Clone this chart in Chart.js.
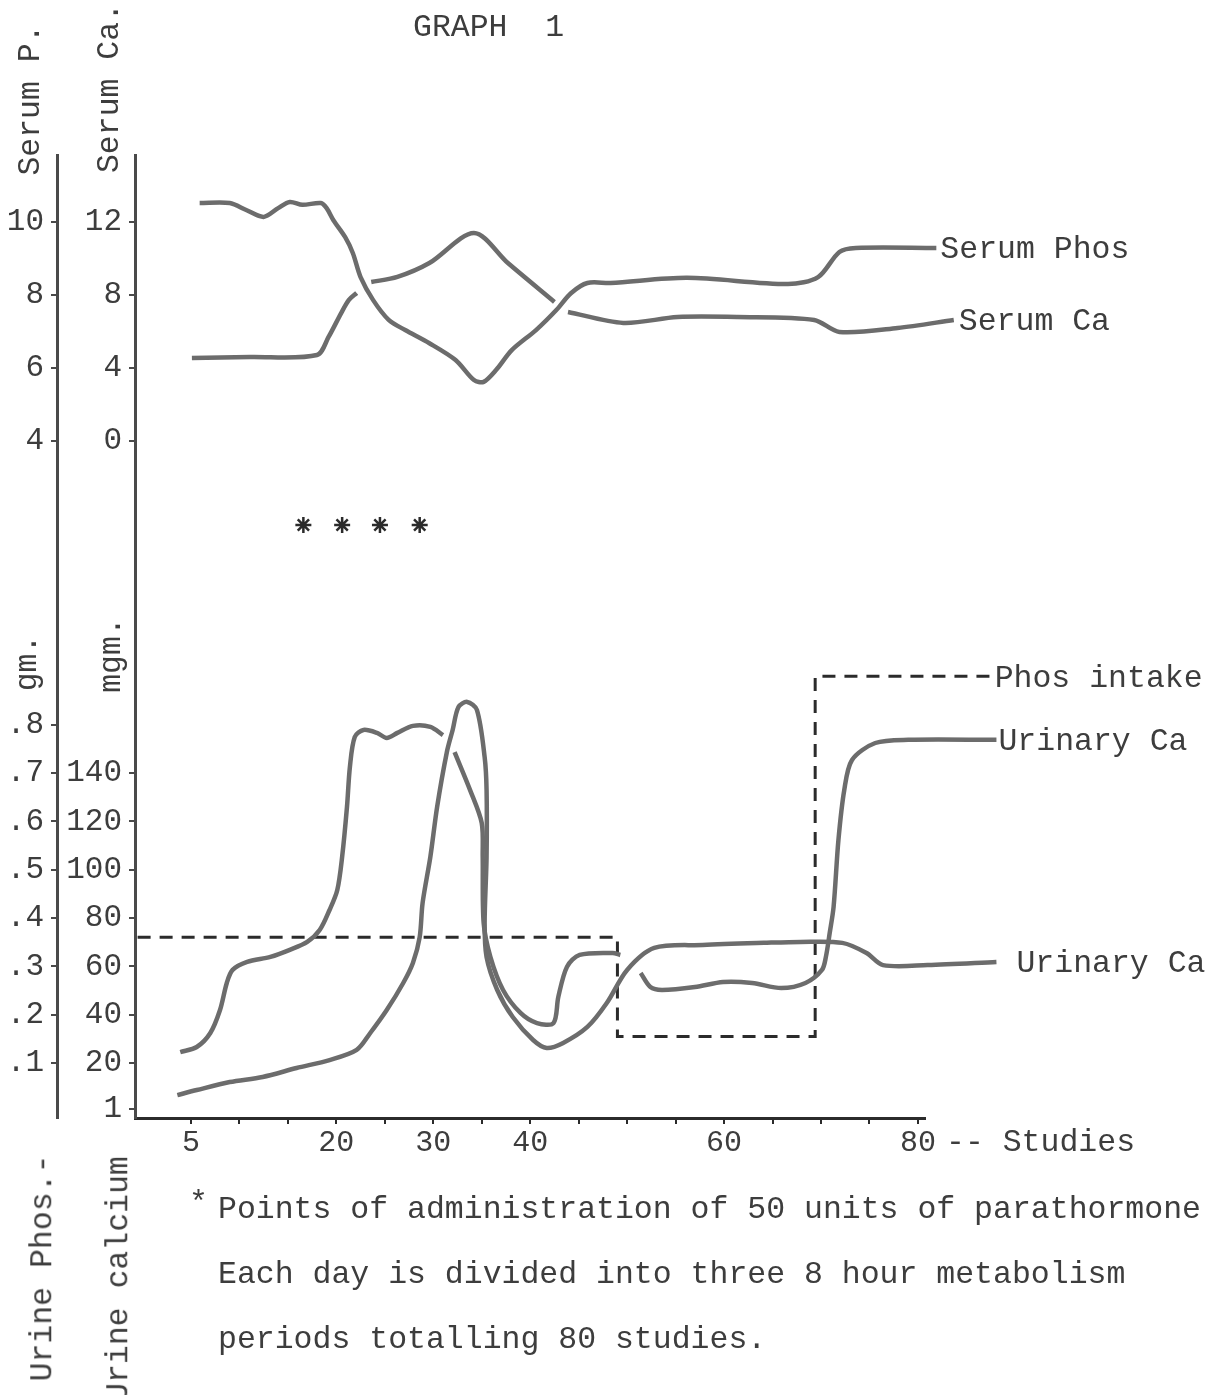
<!DOCTYPE html>
<html>
<head>
<meta charset="utf-8">
<title>Graph 1</title>
<script src="https://cdn.jsdelivr.net/npm/chart.js@4"></script>
<style>
  body { margin: 0; background: #fff; }
  #page { position: relative; width: 1223px; height: 1395px; overflow: hidden; background: #fff; }
  #graph { position: absolute; left: 0; top: 0; }
  .t { position: absolute; font-family: "Liberation Mono", "DejaVu Sans Mono", monospace; font-size: 31.5px;
       line-height: 1; color: #3d3d3d; white-space: pre; }
  .r { transform: translate(-50%, -50%) rotate(-90deg); }
</style>
</head>
<body>
<div id="page">
  <canvas id="graph" width="1223" height="1395"></canvas>

  <div class="t" style="left:413px; top:12px;">GRAPH  1</div>

  <div class="t r" style="left:31px; top:100px;">Serum P.</div>
  <div class="t r" style="left:110px; top:88px;">Serum Ca.</div>
  <div class="t r" style="left:28px; top:663px;">gm.</div>
  <div class="t r" style="left:112px; top:655px;">mgm.</div>
  <div class="t r" style="left:43px; top:1268px;">Urine Phos.-</div>
  <div class="t r" style="left:119px; top:1279px;">Urine calcium</div>

  <div class="t" style="left:946px; top:1127px;">-- Studies</div>

  <div class="t" style="left:189px; top:1188px;">*</div>
  <div class="t" style="left:218px; top:1194px;">Points of administration of 50 units of parathormone</div>
  <div class="t" style="left:218px; top:1259px;">Each day is divided into three 8 hour metabolism</div>
  <div class="t" style="left:218px; top:1324px;">periods totalling 80 studies.</div>
</div>

<script>
// studies on the x axis
const xTicks = [5, 10, 15, 20, 25, 30, 35, 40, 45, 50, 55, 60, 65, 70, 75, 80];
const xLabelled = [5, 20, 30, 40, 60, 80];

const serumCaTicks = [0, 4, 8, 12];
const serumPTicks = [4, 6, 8, 10];
const urineCaTicks = [1, 20, 40, 60, 80, 100, 120, 140];
const urinePTicks = [0.1, 0.2, 0.3, 0.4, 0.5, 0.6, 0.7, 0.8];

// Serum phosphorus (mg. %)
const serumPhosX = [5.9, 9.0, 10.7, 12.5, 14.0, 15.2, 16.5, 18.4, 19.0, 19.7, 20.9, 21.7, 22.5, 23.8, 25.4,
  27.1, 29.6, 32.3, 34.2, 35.2, 36.5, 38.1, 40.6, 42.7, 44.2, 45.9, 48.3, 56.2, 66.6, 69.7, 71.9, 73.6, 81.9];
const serumPhosY = [10.52, 10.52, 10.33, 10.14, 10.38, 10.55, 10.47, 10.52, 10.38, 10.05, 9.59, 9.15, 8.49, 7.86, 7.32,
  7.04, 6.68, 6.22, 5.67, 5.62, 5.95, 6.49, 7.04, 7.59, 8.05, 8.33, 8.33, 8.47, 8.30, 8.49, 9.18, 9.29, 9.29];

// Serum calcium (mg. %), null = break in the pen line
const serumCaX = [5.1, 11.1, 18.0, 19.2, 20.5, 21.3, 22.1, 22.8, 23.6, 26.3, 29.6, 34.2, 37.7, 42.5,
  43.2, 43.9, 49.6, 55.2, 61.4, 69.3, 71.9, 77.9, 83.7];
const serumCaY = [4.55, 4.6, 4.71, 5.7, 7.01, 7.73, 8.11, null, 8.71, 8.99, 9.75, 11.4, 9.75, 7.62,
  null, 7.07, 6.47, 6.79, 6.79, 6.63, 5.97, 6.19, 6.63];

// Urinary calcium (mgm.), upper label
const urineCaX = [3.9, 5.6, 7.0, 8.0, 8.7, 9.3, 10.8, 13.2, 15.2, 17.0, 18.3, 19.3, 20.1, 20.6, 21.1, 21.4, 21.9,
  22.8, 24.2, 25.2, 26.3, 27.9, 29.7, 31.0,
  31.6, 32.2, 33.8, 35.0, 35.1, 35.2, 35.9, 37.2, 39.0, 40.7, 42.4, 42.9, 43.8, 45.1, 48.5, 49.3,
  50.3, 51.4, 52.4, 53.6, 57.0, 59.9, 62.9, 65.9, 68.4, 70.1, 70.5, 70.9, 71.3, 71.8, 72.4, 73.2, 75.6, 79.0, 88.1];
const urineCaY = [24.5, 26.6, 32.4, 41.9, 53.1, 58.5, 61.8, 63.9, 66.8, 70.1, 75.1, 83.3, 91.6, 105.3, 126.0, 142.5, 154.9,
  157.8, 156.6, 154.5, 156.6, 159.5, 159.1, 155.7,
  null, 148.6, 132.9, 119.3, 105.3, 77.9, 63.8, 50.2, 40.7, 36.5, 36.5, 47.3, 59.8, 64.7, 65.5, 64.7,
  null, 57.2, 51.4, 50.2, 51.4, 53.5, 53.1, 51.0, 53.1, 58.5, 63.8, 73.8, 84.6, 112.3, 132.9, 145.4, 152.4, 153.7, 153.7];

// Urinary calcium, lower label
const urineCa2X = [3.6, 5.6, 9.0, 12.4, 15.9, 19.3, 22.1, 23.5, 25.2, 26.9, 27.9, 28.6, 28.9, 29.7, 30.4, 31.4, 32.0,
  32.6, 33.5, 34.5, 35.3, 35.5, 35.5, 35.3, 35.5, 36.6, 38.2, 40.3, 41.7, 43.4, 45.9, 47.9, 50.0, 52.8, 57.8,
  64.1, 67.9, 72.2, 74.7, 76.4, 81.0, 88.1];
const urineCa2Y = [6.7, 8.8, 12.1, 14.2, 17.9, 21.2, 25.4, 32.4, 41.9, 53.1, 61.4, 72.1, 86.2, 105.3, 126.0, 148.6, 157.8,
  167.3, 169.4, 166.1, 146.6, 132.9, 105.3, 77.9, 63.8, 50.2, 39.0, 29.5, 26.2, 28.3, 34.9, 44.8, 58.5, 67.6, 68.8,
  69.7, 70.1, 69.7, 65.5, 60.5, 60.5, 61.8];

// Phosphorus intake (gm.), step line
const phosIntakeX = [-0.5, 49.0, 69.4, 87.4];
const phosIntakeY = [0.36, 0.155, 0.9, 0.9];

// parathormone injections (*)
const injectionX = [16.6, 20.6, 24.5, 28.6];
const injectionY = [-4.6, -4.6, -4.6, -4.6];

const TEXT = '#3d3d3d';
const PEN = '#6c6c6c';
const INK = '#2b2b2b';
const AXIS = '#4a4a4a';
const AREA = { left: 135, top: 155, right: 925, bottom: 1118 };
const UPPER_H = 445;   // serum panel height, px
const LOWER_H = 518;   // urine panel height, px

Chart.defaults.font.family = '"Liberation Mono", "DejaVu Sans Mono", monospace';

const pts = (xs, ys) => xs.map((x, i) => ({ x: x, y: ys[i] }));
const fixedTicks = (values) => (scale) => { scale.ticks = values.map(v => ({ value: v })); };

function yAxis(min, max, ticks, stack, weight, stackWeight, width, fmt) {
  return {
    type: 'linear',
    position: 'left',
    min: min,
    max: max,
    stack: stack,
    weight: weight,
    stackWeight: stackWeight,
    afterBuildTicks: fixedTicks(ticks),
    afterFit: (s) => { s.width = width; },
    border: { color: AXIS, width: 3 },
    grid: { drawOnChartArea: false, tickLength: 6, color: AXIS, lineWidth: 2 },
    ticks: { autoSkip: false, padding: 7, color: TEXT, font: { size: 31 }, callback: fmt }
  };
}

function pen(label, axis, xs, ys, extra) {
  return Object.assign({
    label: label,
    yAxisID: axis,
    data: pts(xs, ys),
    borderColor: PEN,
    borderWidth: 4.5,
    pointRadius: 0,
    tension: 0.3,
    fill: false,
    clip: false
  }, extra);
}

// writes the typed label just after the last point of a line
const endLabels = {
  id: 'endLabels',
  afterDatasetsDraw(chart) {
    const ctx = chart.ctx;
    ctx.save();
    ctx.font = '31.5px "Liberation Mono", monospace';
    ctx.fillStyle = TEXT;
    ctx.textBaseline = 'middle';
    chart.data.datasets.forEach((ds, i) => {
      if (!ds.endLabel) return;
      const els = chart.getDatasetMeta(i).data;
      const last = els[els.length - 1];
      ctx.fillText(ds.endLabel, last.x + (ds.labelGap || 4), last.y + 2);
    });
    ctx.restore();
  }
};

const chart = new Chart(document.getElementById('graph'), {
  type: 'line',
  data: {
    datasets: [
      pen('Serum Phos', 'yP', serumPhosX, serumPhosY, { endLabel: 'Serum Phos', labelGap: 4 }),
      pen('Serum Ca', 'yCa', serumCaX, serumCaY, { endLabel: 'Serum Ca', labelGap: 5 }),
      pen('Urinary Ca', 'yUCa', urineCaX, urineCaY, { endLabel: 'Urinary Ca', labelGap: 2 }),
      pen('Urinary Ca (2)', 'yUCa', urineCa2X, urineCa2Y, { endLabel: 'Urinary Ca', labelGap: 20 }),
      pen('Phos intake', 'yUP', phosIntakeX, phosIntakeY, {
        endLabel: 'Phos intake', labelGap: 5, stepped: true, tension: 0,
        borderColor: INK, borderWidth: 3, borderDash: [13, 9]
      }),
      {
        label: 'Parathormone',
        yAxisID: 'yCa',
        data: pts(injectionX, injectionY),
        showLine: false,
        pointStyle: 'star',
        pointRadius: 8,
        pointBorderWidth: 2.5,
        borderColor: INK,
        clip: false
      }
    ]
  },
  options: {
    responsive: false,
    animation: false,
    events: [],
    layout: { padding: { left: 0, top: 155, right: 298, bottom: 227 } },
    plugins: { legend: { display: false }, tooltip: { enabled: false } },
    scales: {
      x: {
        type: 'linear',
        min: -0.77,
        max: 80.73,
        afterBuildTicks: fixedTicks(xTicks),
        afterFit: (s) => { s.height = 50; },
        border: { color: INK, width: 3 },
        grid: { drawOnChartArea: false, tickLength: 6, color: INK, lineWidth: 2 },
        ticks: {
          autoSkip: false, maxRotation: 0, padding: 1, color: TEXT, font: { size: 30 },
          callback: (v) => xLabelled.includes(v) ? String(v) : ''
        }
      },
      // outer column: serum P over urine P; inner column: serum Ca over urine Ca
      yP: yAxis(-0.356, 11.836, serumPTicks, 'outer', 4, UPPER_H, 57, (v) => String(v)),
      yUP: yAxis(-0.01385, 1.05785, urinePTicks, 'outer', 3, LOWER_H, 57, (v) => v.toFixed(1).replace(/^0/, '')),
      yCa: yAxis(-8.712, 15.67, serumCaTicks, 'inner', 2, UPPER_H, 78, (v) => String(v)),
      yUCa: yAxis(-2.77, 211.57, urineCaTicks, 'inner', 1, LOWER_H, 78, (v) => String(v))
    }
  },
  plugins: [endLabels]
});

// nudge the padding so the plot box sits where the paper's axes are
const a = chart.chartArea;
const pad = chart.options.layout.padding;
pad.left += AREA.left - a.left;
pad.top += AREA.top - a.top;
pad.right += a.right - AREA.right;
pad.bottom += a.bottom - AREA.bottom;
chart.update();
</script>
</body>
</html>
